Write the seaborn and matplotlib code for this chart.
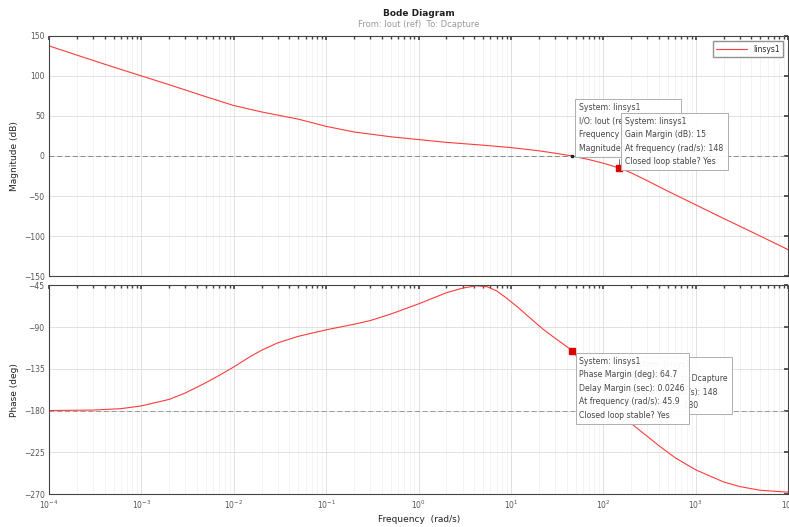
import numpy as np
import pandas as pd
import matplotlib
matplotlib.use("Agg")
import matplotlib.pyplot as plt
from matplotlib.ticker import LogLocator, FixedLocator
import seaborn as sns

# Values
mag_freq = [1e-4, 2e-4, 5e-4, 1e-3, 2e-3, 5e-3, 1e-2, 2e-2, 5e-2, 1e-1,
            2e-1, 5e-1, 1e0, 2e0, 5e0, 1e1, 2e1, 3e1, 45.9, 70,
            1e2, 148, 2e2, 3e2, 5e2, 1e3, 2e3, 5e3, 1e4]
mag_db = [137.5, 126, 111, 100, 89, 74, 63, 55, 46, 37,
          30, 24, 20.5, 17, 13.5, 10.5, 6.5, 3.5, 0, -4.5,
          -9, -15, -21, -31, -44, -61, -78, -100, -117]

phase_freq = [1e-4, 3e-4, 6e-4, 1e-3, 2e-3, 3e-3, 5e-3, 7e-3, 1e-2, 1.5e-2,
              2e-2, 3e-2, 5e-2, 1e-1, 2e-1, 3e-1, 5e-1, 1e0, 2e0, 3e0,
              4.2, 5.5, 7, 9, 12, 16, 22, 30, 45.9, 70,
              100, 148, 200, 300, 400, 600, 1e3, 2e3, 3e3, 5e3, 1e4]
phase_deg = [-180, -179.5, -178, -175, -168, -161, -150, -142, -133, -122,
             -115, -107, -100, -93, -87, -83, -76, -65, -53, -48,
             -45.5, -46.5, -51, -59, -69, -80, -92, -102, -115.3, -138,
             -158, -180, -194, -208, -218, -231, -244, -257, -262, -266, -268]

mag_ticks = [-150, -100, -50, 0, 50, 100, 150]
phase_ticks = [-270, -225, -180, -135, -90, -45]

gm_freq, gm_db = 148, -15
pm_freq, pm_deg = 45.9, -115.3

mag_df = pd.DataFrame({"freq": mag_freq, "mag": mag_db, "sys": "linsys1"})
ph_df = pd.DataFrame({"freq": phase_freq, "phase": phase_deg})

sns.set_theme(style="white")
plt.rcParams["font.family"] = ["DejaVu Sans"]

fig = plt.figure(figsize=(7.89, 5.27), dpi=100)
ax1 = fig.add_axes([0.062, 0.476, 0.937, 0.456])
ax2 = fig.add_axes([0.062, 0.0626, 0.937, 0.396])

red = "#ff3b3b"
sns.lineplot(data=mag_df, x="freq", y="mag", hue="sys", palette=[red],
             ax=ax1, linewidth=0.8, legend=True)
sns.lineplot(data=ph_df, x="freq", y="phase", color=red, ax=ax2,
             linewidth=0.8, legend=False)

for ax in (ax1, ax2):
    ax.set_xscale("log")
    ax.set_xlim(1e-4, 1e4)
    ax.xaxis.set_major_locator(LogLocator(base=10, numticks=20))
    ax.xaxis.set_minor_locator(LogLocator(base=10, subs=np.arange(2, 10), numticks=20))
    ax.grid(True, which="major", color="#dcdcdc", linewidth=0.6)
    ax.grid(True, which="minor", color="#eeeeee", linewidth=0.5)
    ax.tick_params(which="both", direction="in", top=True, right=True,
                   labelsize=5.5, labelcolor="#555555", color="#444444")
    ax.tick_params(which="major", length=3, pad=3)
    ax.tick_params(which="minor", length=2)
    for s in ax.spines.values():
        s.set_color("#444444")
        s.set_linewidth(0.8)
    ax.set_xlabel("")

ax1.set_ylim(-150, 150)
ax1.yaxis.set_major_locator(FixedLocator(mag_ticks))
ax1.set_xticklabels([])
ax1.set_ylabel("Magnitude (dB)", fontsize=6.5, color="#222222")
ax1.yaxis.set_label_coords(-0.04, 0.5)
ax1.axhline(0, color="#888888", linestyle=(0, (5, 3)), linewidth=0.7)

ax2.set_ylim(-270, -45)
ax2.yaxis.set_major_locator(FixedLocator(phase_ticks))
ax2.set_ylabel("Phase (deg)", fontsize=6.5, color="#222222")
ax2.yaxis.set_label_coords(-0.04, 0.5)
ax2.axhline(-180, color="#999999", linestyle=(0, (5, 3)), linewidth=0.7)

leg = ax1.legend(loc="upper right", fontsize=5.5, frameon=True, fancybox=False,
                 edgecolor="#777777", handlelength=4, borderpad=0.45,
                 borderaxespad=0.7)

# markers
ax1.plot([pm_freq], [0], marker="s", color="#222222", markersize=2)
ax1.plot([gm_freq, gm_freq], [gm_db, -4], color="#555555", linewidth=0.6)
ax1.plot([gm_freq], [gm_db], marker="s", color="#dd0000", markersize=4)
ax2.plot([pm_freq], [pm_deg], marker="s", color="#dd0000", markersize=4)

box = dict(boxstyle="square,pad=0.5", facecolor="white", edgecolor="#aaaaaa",
           linewidth=0.7, alpha=0.95)
tip_kw = dict(fontsize=5.6, color="#444444", linespacing=1.65, va="top", ha="left")

# magnitude datatips (back then front)
ax1.text(54, 66, "System: linsys1\nI/O: Iout (ref) to Dcapture\nFrequency (rad/s): 45.9\nMagnitude (dB): 0",
         bbox=box, **tip_kw)
ax1.text(173, 49, "System: linsys1\nGain Margin (dB): 15\nAt frequency (rad/s): 148\nClosed loop stable? Yes",
         bbox=box, **tip_kw)

# phase datatips (back then front)
ax2.text(190, -126, "System: linsys1\nI/O: Iout (ref) to Dcapture\nFrequency (rad/s): 148\nPhase (deg): -180",
         bbox=box, **tip_kw)
ax2.text(55, -122, "System: linsys1\nPhase Margin (deg): 64.7\nDelay Margin (sec): 0.0246\nAt frequency (rad/s): 45.9\nClosed loop stable? Yes",
         bbox=box, **tip_kw)

fig.text(0.531, 0.975, "Bode Diagram", ha="center", va="center",
         fontsize=6.5, fontweight="bold", color="#222222")
fig.text(0.531, 0.953, "From: Iout (ref)  To: Dcapture", ha="center", va="center",
         fontsize=6, color="#999999")
fig.text(0.531, 0.015, "Frequency  (rad/s)", ha="center", va="center",
         fontsize=6.5, color="#222222")

fig.savefig("out.png", dpi=100)
